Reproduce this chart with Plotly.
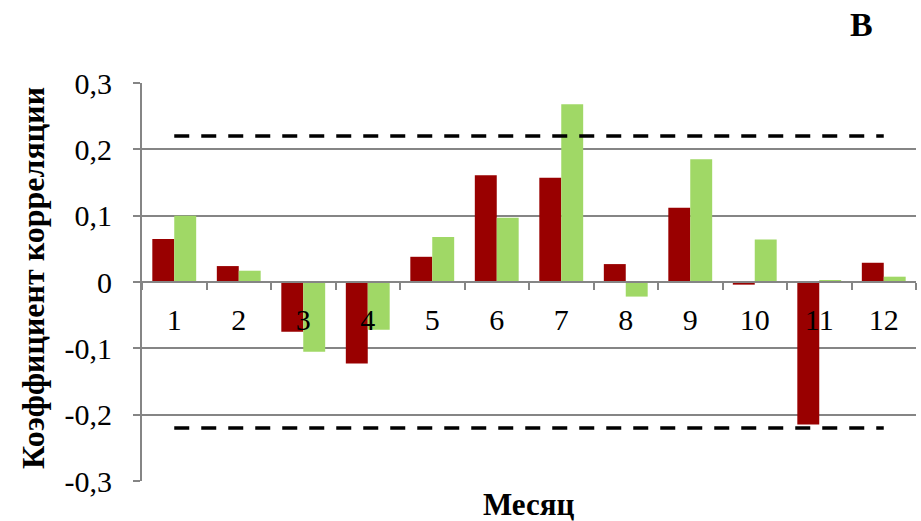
import plotly.graph_objects as go

months = ["1", "2", "3", "4", "5", "6", "7", "8", "9", "10", "11", "12"]
series_red = [0.065, 0.024, -0.075, -0.123, 0.038, 0.161, 0.157, 0.027, 0.112, -0.004, -0.215, 0.029]
series_green = [0.100, 0.017, -0.105, -0.072, 0.068, 0.097, 0.268, -0.022, 0.185, 0.064, 0.003, 0.008]
threshold = 0.22
y_tickvals = [0.3, 0.2, 0.1, 0, -0.1, -0.2, -0.3]
y_ticktext = ["0,3", "0,2", "0,1", "0", "-0,1", "-0,2", "-0,3"]

serif = "Times New Roman, Liberation Serif, serif"
grid = "#858585"

fig = go.Figure()
fig.add_trace(go.Bar(x=months, y=series_red, marker=dict(color="#990000", line=dict(width=0)), showlegend=False))
fig.add_trace(go.Bar(x=months, y=series_green, marker=dict(color="#a0d866", line=dict(width=0)), showlegend=False))
for v in (threshold, -threshold):
    fig.add_trace(go.Scatter(x=[months[0], months[-1]], y=[v, v], mode="lines",
                             line=dict(color="black", width=3.5, dash="15px,12px"),
                             showlegend=False, hoverinfo="skip"))

fig.update_layout(
    width=921, height=521,
    margin=dict(l=142, r=5, t=83, b=40),
    paper_bgcolor="white", plot_bgcolor="white",
    barmode="group", bargap=0.32, bargroupgap=0,
    font=dict(family=serif, color="black", size=28),
    xaxis=dict(anchor="free", position=0.5, type="category",
               showline=True, linecolor=grid, linewidth=2,
               ticks="outside", tickson="boundaries", ticklen=7, tickwidth=2, tickcolor=grid,
               showgrid=False, tickfont=dict(family=serif, size=30, color="black"),
               ticklabelstandoff=11),
    yaxis=dict(range=[-0.3, 0.3], tickvals=y_tickvals, ticktext=y_ticktext,
               showline=True, linecolor=grid, linewidth=2,
               ticks="outside", ticklen=7, tickwidth=2, tickcolor=grid,
               showgrid=True, gridcolor=grid, gridwidth=2, zeroline=False,
               tickfont=dict(family=serif, size=30, color="black"),
               ticklabelstandoff=15),
    annotations=[
        dict(text="<b>Месяц</b>", xref="paper", yref="paper", x=0.5, y=-0.06,
             showarrow=False, font=dict(family=serif, size=31, color="black"),
             xanchor="center", yanchor="middle"),
        dict(text="<b>Коэффициент корреляции</b>", xref="paper", yref="paper", x=-0.141, y=0.51,
             textangle=-90, showarrow=False, font=dict(family=serif, size=32, color="black"),
             xanchor="center", yanchor="middle"),
        dict(text="<b>В</b>", xref="paper", yref="paper", x=0.93, y=1.146,
             showarrow=False, font=dict(family=serif, size=34, color="black"),
             xanchor="center", yanchor="middle"),
    ],
)

fig.write_html("out.html")
